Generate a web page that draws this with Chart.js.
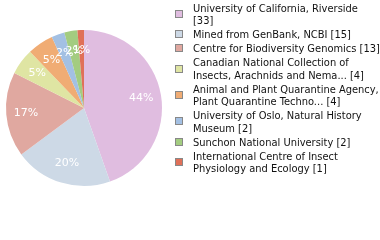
<!DOCTYPE html>
<html>
<head>
<meta charset="utf-8">
<script src="https://cdn.jsdelivr.net/npm/chart.js@4"></script>
<style>
  html, body { margin: 0; padding: 0; background: #fff; }
  #wrap { width: 380px; height: 240px; }
</style>
</head>
<body>
<div id="wrap"><canvas id="myChart" width="380" height="240"></canvas></div>
<script>
/* DATA */

const categories = [
  'University of California, Riverside',
  'Mined from GenBank, NCBI',
  'Centre for Biodiversity Genomics',
  'Canadian National Collection of Insects, Arachnids and Nema...',
  'Animal and Plant Quarantine Agency, Plant Quarantine Techno...',
  'University of Oslo, Natural History Museum',
  'Sunchon National University',
  'International Centre of Insect Physiology and Ecology'
];
const counts = [33, 15, 13, 4, 4, 2, 2, 1];
const sliceColors = ['#e0bde0', '#cdd9e6', '#e0a8a0', '#dfe5a3', '#f0ac74', '#a3c0e3', '#a3cc80', '#e07058'];

const LEGEND_FONT = '11px "DejaVu Sans Condensed", "DejaVu Sans", sans-serif';
const SLICE_FONT = '11px "DejaVu Sans", sans-serif';
const WRAP_CHARS = 38;

// percentage labels drawn inside the slices
const sliceLabels = {
  id: 'sliceLabels',
  afterDatasetsDraw(chart) {
    const ctx = chart.ctx;
    const meta = chart.getDatasetMeta(0);
    const total = counts.reduce((a, b) => a + b, 0);
    ctx.save();
    ctx.font = SLICE_FONT;
    ctx.fillStyle = '#fff';
    ctx.textAlign = 'center';
    ctx.textBaseline = 'middle';
    meta.data.forEach(function(arc, i) {
      const mid = (arc.startAngle + arc.endAngle) / 2;
      const r = arc.outerRadius * 0.745;
      const x = arc.x + Math.cos(mid) * r;
      const y = arc.y + Math.sin(mid) * r;
      ctx.fillText(Math.floor(counts[i] / total * 100) + '%', x, y);
    });
    ctx.restore();
  }
};

// wrap a label by character count
function wrapLabel(text) {
  const lines = [];
  let cur = '';
  text.split(' ').forEach(function(w) {
    const test = cur ? cur + ' ' + w : w;
    if (cur && test.length > WRAP_CHARS) {
      lines.push(cur);
      cur = w;
    } else {
      cur = test;
    }
  });
  lines.push(cur);
  return lines;
}

// legend on the right with wrapped labels
const sideLegend = {
  id: 'sideLegend',
  afterDraw(chart) {
    const ctx = chart.ctx;
    const boxX = 175, textX = 193;
    const lineH = 12.4, gap = 1.6;
    let base = 12;
    ctx.save();
    ctx.font = LEGEND_FONT;
    ctx.textBaseline = 'alphabetic';
    ctx.textAlign = 'left';
    categories.forEach(function(name, i) {
      const lines = wrapLabel(name + ' [' + counts[i] + ']');

      const cy = Math.round(base - 4 + (lines.length - 1) * lineH / 2);
      ctx.fillStyle = sliceColors[i];
      ctx.fillRect(boxX, cy - 4, 8, 8);
      ctx.strokeStyle = '#888';
      ctx.lineWidth = 1;
      ctx.strokeRect(boxX + 0.5, cy - 3.5, 7, 7);

      ctx.fillStyle = '#111';
      lines.forEach(function(l, j) {
        ctx.fillText(l, textX, base + j * lineH);
      });
      base += lines.length * lineH + gap;
    });
    ctx.restore();
  }
};

const ctx = document.getElementById('myChart').getContext('2d');

const chart = new Chart(ctx, {
  type: 'pie',
  data: {
    labels: categories,
    datasets: [{
      data: counts,
      backgroundColor: sliceColors,
      borderWidth: 0
    }]
  },
  options: {
    responsive: false,
    animation: false,
    devicePixelRatio: 1,
    layout: { padding: { left: 6, top: 30, right: 218, bottom: 54 } },
    plugins: {
      legend: { display: false },
      tooltip: { enabled: false }
    }
  },
  plugins: [sliceLabels, sideLegend]
});
</script>
</body>
</html>
